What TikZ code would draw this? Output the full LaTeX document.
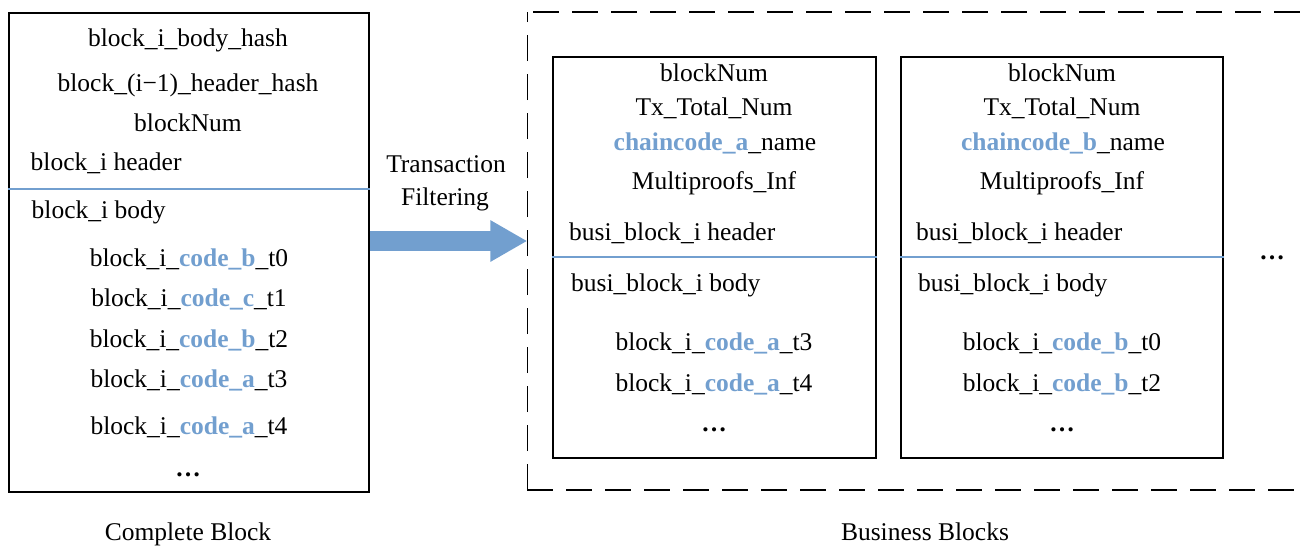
\documentclass[tikz,border=0pt]{standalone}
\usepackage{fontspec}
\setmainfont{Liberation Serif}
\usetikzlibrary{arrows.meta}
\definecolor{accent}{RGB}{114,159,207}
\newcommand{\hl}[1]{\textcolor{accent}{\textbf{#1}}}

\begin{document}
\begin{tikzpicture}[x=1pt, y=-1pt,
  font=\fontsize{25.5}{30}\selectfont,
  lbl/.style={inner sep=0pt, anchor=base},
  lbll/.style={inner sep=0pt, anchor=base west},
  blk/.style={draw=black, line width=1.8pt, inner sep=0pt},
  divider/.style={draw=accent, line width=1.5pt},
  groupline/.style={draw=black, line width=1.6pt, dash pattern=on 26pt off 13pt},
  flow/.style={draw=accent, line width=20pt, -{Triangle[length=37pt,width=39pt]}},
]
\useasboundingbox (0,0) rectangle (1311,546);

% ---------- complete block ----------
\coordinate (d1) at (0,189);
\node[blk, minimum width=360pt, minimum height=479pt] (full) at (189,252.2) {};
\draw[divider] (full.west |- d1) -- (full.east |- d1);
\node[lbl]  (h1) at (188,46.7)  {block\_i\_body\_hash};
\node[lbl]  (h2) at (188,91.7)  {block\_(i−1)\_header\_hash};
\node[lbl]  (h3) at (188,131)   {blockNum};
\node[lbll] (h4) at (30.5,170.7) {block\_i header};
\node[lbll] (b0) at (31.5,218.3) {block\_i body};
\node[lbl]  (t0) at (189,266.7) {block\_i\_\hl{code\_b}\_t0};
\node[lbl]  (t1) at (189,306)   {block\_i\_\hl{code\_c}\_t1};
\node[lbl]  (t2) at (189,347.3) {block\_i\_\hl{code\_b}\_t2};
\node[lbl]  (t3) at (189,387.3) {block\_i\_\hl{code\_a}\_t3};
\node[lbl]  (t4) at (189,434)   {block\_i\_\hl{code\_a}\_t4};
\node[lbl]  (tx) at (188,476)   {\textbf{…}};
\node[lbl]  (cap1) at (188,540) {Complete Block};

% ---------- filtering arrow ----------
\coordinate (ar) at (0,241);
\coordinate (dtl) at (527.3,11.7);
\coordinate (dbl) at (527.3,490);
\coordinate (dtr) at (1308,11.7);
\coordinate (dbr) at (1304,490);
\node[lbl] (tf1) at (446,172) {Transaction};
\node[lbl] (tf2) at (445,205) {Filtering};
\draw[flow] (full.east |- ar) -- (dtl |- ar);

% ---------- business blocks group ----------
\draw[groupline] (dbl) -- (dtl);
\draw[groupline] (dbl) -- (dbr);
\draw[groupline, dash phase=33pt] (dtl) -- (dtr);

% business block a
\coordinate (d2) at (0,257);
\node[blk, minimum width=322.7pt, minimum height=401.6pt] (ba) at (714.7,257.5) {};
\draw[divider] (ba.west |- d2) -- (ba.east |- d2);
\node[lbl]  (a1) at (714,81)    {blockNum};
\node[lbl]  (a2) at (714,115)   {Tx\_Total\_Num};
\node[lbl]  (a3) at (715,150)   {\hl{chaincode\_a}\_name};
\node[lbl]  (a4) at (714,189.3) {Multiproofs\_Inf};
\node[lbll] (a5) at (569,240.7) {busi\_block\_i header};
\node[lbll] (a6) at (571,291.7) {busi\_block\_i body};
\node[lbl]  (a7) at (714,350)   {block\_i\_\hl{code\_a}\_t3};
\node[lbl]  (a8) at (714,391.7) {block\_i\_\hl{code\_a}\_t4};
\node[lbl]  (a9) at (714,431)   {\textbf{…}};

% business block b
\node[blk, minimum width=322pt, minimum height=401.6pt] (bb) at (1062,257.5) {};
\draw[divider] (bb.west |- d2) -- (bb.east |- d2);
\node[lbl]  (b1) at (1062,81)    {blockNum};
\node[lbl]  (b2) at (1062,115)   {Tx\_Total\_Num};
\node[lbl]  (b3) at (1063,150)   {\hl{chaincode\_b}\_name};
\node[lbl]  (b4) at (1062,189.3) {Multiproofs\_Inf};
\node[lbll] (b5) at (916,240.7)  {busi\_block\_i header};
\node[lbll] (b6) at (918,291.7)  {busi\_block\_i body};
\node[lbl]  (b7) at (1062,350)   {block\_i\_\hl{code\_b}\_t0};
\node[lbl]  (b8) at (1062,391.7) {block\_i\_\hl{code\_b}\_t2};
\node[lbl]  (b9) at (1062,431)   {\textbf{…}};

\node[lbl] (more) at (1272,259) {\textbf{…}};
\node[lbl] (cap2) at (925,540) {Business Blocks};
\end{tikzpicture}
\end{document}
